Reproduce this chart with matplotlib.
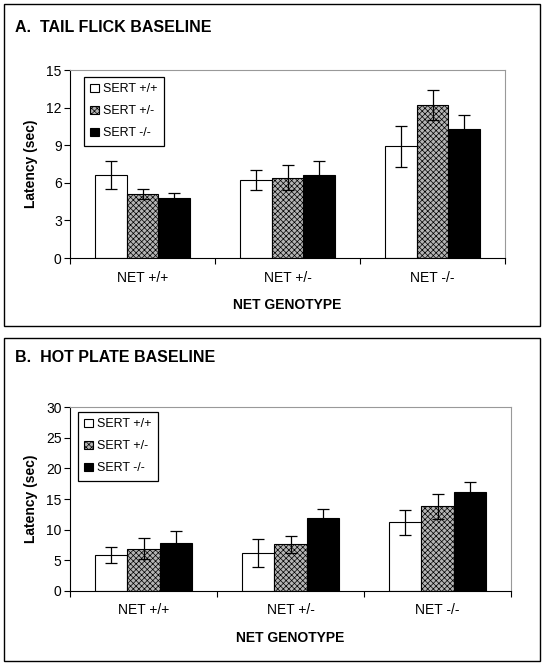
import matplotlib
matplotlib.use("Agg")
import matplotlib.pyplot as plt
from matplotlib.patches import Rectangle
import numpy as np

plt.rcParams["font.family"] = ["Liberation Sans", "DejaVu Sans"]
plt.rcParams["hatch.color"] = "#505050"
plt.rcParams["hatch.linewidth"] = 0.5

categories = ["NET +/+", "NET +/-", "NET -/-"]
series = ["SERT +/+", "SERT +/-", "SERT -/-"]

# Panel A: tail flick baseline latency (sec)
tail_means = [[6.6, 6.2, 8.9],
              [5.1, 6.4, 12.2],
              [4.8, 6.6, 10.3]]
tail_errs = [[1.1, 0.8, 1.6],
             [0.4, 1.0, 1.2],
             [0.4, 1.1, 1.1]]

# Panel B: hot plate baseline latency (sec)
hot_means = [[5.8, 6.2, 11.2],
             [6.9, 7.6, 13.8],
             [7.8, 11.9, 16.1]]
hot_errs = [[1.3, 2.3, 2.0],
            [1.7, 1.4, 2.0],
            [2.0, 1.4, 1.7]]

W, H = 544, 665
fig = plt.figure(figsize=(W / 100, H / 100), dpi=100)

# panel frames
for y0, y1 in [(4, 326), (338, 661)]:
    fig.patches.append(Rectangle((4 / W, 1 - y1 / H), 536 / W, (y1 - y0) / H,
                                 transform=fig.transFigure, fill=False,
                                 edgecolor="black", linewidth=1.0))

styles = [dict(color="white", hatch=None),
          dict(color="#b4b4b4", hatch="xxxxxx"),
          dict(color="black", hatch=None)]


def draw_panel(rect, means, errs, ymax, step, title, title_y, legend_xy):
    ax = fig.add_axes(rect)
    x = np.arange(len(categories))
    w = 0.22
    for i, name in enumerate(series):
        st = styles[i]
        ax.bar(x + (i - 1) * w, means[i], w, color=st["color"], hatch=st["hatch"],
               edgecolor="black", linewidth=0.8, label=name, zorder=2)
        ax.errorbar(x + (i - 1) * w, means[i], yerr=errs[i], fmt="none",
                    ecolor="black", elinewidth=0.9, capsize=4, capthick=0.9, zorder=3)
    ax.set_xlim(-0.5, 2.5)
    ax.set_ylim(0, ymax)
    ax.set_yticks(np.arange(0, ymax + 0.1, step))
    ax.set_xticks([-0.5, 0.5, 1.5, 2.5])
    ax.set_xticklabels([])
    ax.set_xticks(x, minor=True)
    ax.set_xticklabels(categories, minor=True)
    ax.tick_params(axis="x", which="minor", length=0, pad=9, labelsize=10)
    ax.tick_params(axis="x", which="major", length=4, direction="out")
    ax.tick_params(axis="y", length=4, direction="out", labelsize=10, pad=2)
    for s in ["top", "right"]:
        ax.spines[s].set_color("#999999")
    ax.set_ylabel("Latency (sec)", fontsize=10, fontweight="bold", labelpad=6)
    ax.set_xlabel("NET GENOTYPE", fontsize=10, fontweight="bold", labelpad=10)
    leg = ax.legend(loc="upper left", bbox_to_anchor=legend_xy,
                    bbox_transform=fig.transFigure, fancybox=False,
                    edgecolor="black", framealpha=1, fontsize=9,
                    handlelength=0.7, handleheight=0.7, handletextpad=0.3,
                    labelspacing=0.8, borderpad=0.5, borderaxespad=0)
    leg.get_frame().set_linewidth(0.9)
    fig.text(15 / W, 1 - title_y / H, title, fontsize=11.5, fontweight="bold",
             va="center", ha="left")
    return ax


draw_panel([70 / W, 1 - 258 / H, 435 / W, 188 / H], tail_means, tail_errs,
           15, 3, "A.  TAIL FLICK BASELINE", 27, (84 / W, 1 - 77 / H))
draw_panel([70 / W, 1 - 591 / H, 441 / W, 184 / H], hot_means, hot_errs,
           30, 5, "B.  HOT PLATE BASELINE", 358, (78 / W, 1 - 412 / H))

fig.savefig("out.png", dpi=100)
